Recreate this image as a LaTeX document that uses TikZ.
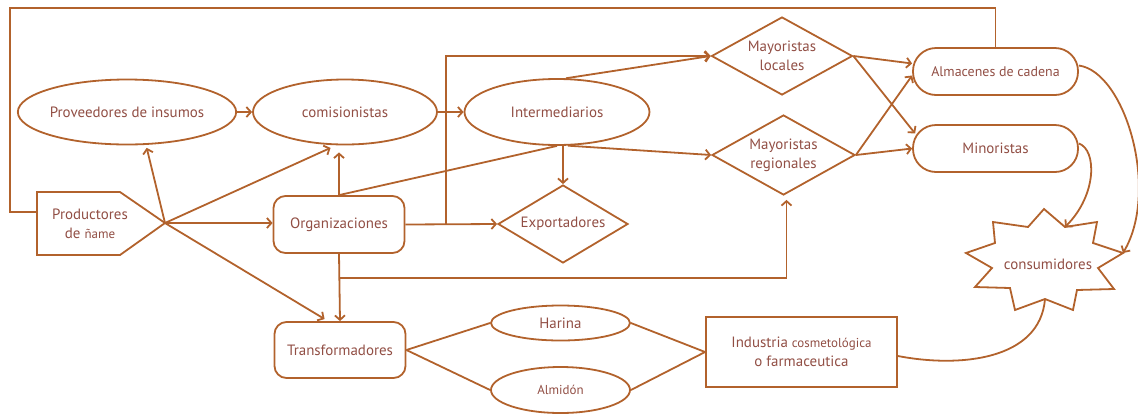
\documentclass[tikz,border=0pt]{standalone}
\usepackage{fontspec}
\setmainfont{PT Sans}
\usetikzlibrary{arrows.meta,shapes.geometric,calc}
\definecolor{lc}{RGB}{178,98,44}
\definecolor{tc}{RGB}{145,78,68}
\newcommand{\nfont}{\fontsize{15}{19}\selectfont}
\newcommand{\sfont}{\fontsize{13}{19}\selectfont}
\begin{document}
\begin{tikzpicture}[x=1bp,y=-1bp,
  ln/.style={draw=lc,line width=1.8bp},
  arr/.style={ln,-{Straight Barb[length=4.5bp,width=10bp]}},
  box/.style={ln,text=tc,font=\nfont,inner sep=0pt,align=center},
  ell/.style={box,ellipse},
  rbox/.style={box,rectangle,rounded corners=12bp},
  pill/.style={box,rectangle,rounded corners=23bp},
  dia/.style={box,diamond,aspect=1.8},
  lbl/.style={text=tc,font=\nfont,inner sep=0pt,align=center}]
\useasboundingbox (0,0) rectangle (1138,416);

% ---- nodes ----
\node[ell,minimum width=185bp,minimum height=65bp] (prov) at (127,112) {Proveedores de insumos};
\node[ell,minimum width=184bp,minimum height=65bp] (com) at (345,112) {comisionistas};
\node[ell,minimum width=185bp,minimum height=66bp] (inter) at (557,112) {Intermediarios};
\node[rbox,minimum width=131bp,minimum height=57bp] (org) at (339,224.5) {Organizaciones};
\node[rbox,minimum width=131bp,minimum height=56bp] (trans) at (340,350) {Transformadores};
\node[dia,minimum width=130bp,minimum height=78bp] (expo) at (563,224) {Exportadores};
\node[dia,minimum width=141bp,minimum height=78bp] (mloc) at (782,56) {Mayoristas\\locales};
\node[dia,minimum width=143bp,minimum height=80bp] (mreg) at (783.5,155) {Mayoristas\\regionales};
\node[pill,minimum width=165bp,minimum height=47bp,font=\fontsize{14}{16}\selectfont] (almc) at (995.5,71.5) {Almacenes de cadena};
\node[pill,minimum width=165bp,minimum height=47bp] (mino) at (995.5,148.5) {Minoristas};
\node[ell,minimum width=139bp,minimum height=35bp] (harina) at (560.5,323) {Harina};
\node[ell,minimum width=139bp,minimum height=46bp,font=\sfont] (almidon) at (560.5,390) {Almidón};
\node[box,rectangle,minimum width=191bp,minimum height=70bp] (ind) at (801.5,352) {Industria {\sfont cosmetológica}\\o farmaceutica};

% producers: pentagon pointing right
\coordinate (pTL) at (37,192);
\coordinate (pTR) at (120,192);
\coordinate (ptip) at (165,223);
\coordinate (pBR) at (120,255);
\coordinate (pBL) at (37,255);
\coordinate (prodL) at (37,212);
\draw[ln] (pTL) -- (pTR) -- (ptip) -- (pBR) -- (pBL) -- cycle;
\node[lbl] (prod) at (90,224) {Productores\\de {\sfont ñame}};

% consumers: irregular star
\coordinate (cTop) at (1044,209);
\coordinate (cIn1) at (1065,227);
\coordinate (cR) at (1123,253);
\coordinate (cBot) at (1045,299);
\draw[ln,line join=miter] (cTop) -- (cIn1) -- (1097,222) -- (1093,243) -- (cR) -- (1098,268)
  -- (1114,289) -- (1077,290) -- (1073,310) -- (cBot) -- (1015,310) -- (1010,288)
  -- (975,287) -- (992,268) -- (966,253) -- (995,243) -- (993,222) -- (1028,227) -- cycle;
\node[lbl] (cons) at (1048,264) {consumidores};

% ---- connectors ----
\coordinate (topL) at (10,8);
\draw[ln] (almc.north) |- (topL) |- (prodL);

\draw[arr,shorten >=3bp] (ptip) -- (prov.-60);
\draw[arr,shorten >=6bp] (ptip) -- ($(com.south)+(-9,0)$);
\draw[arr] (ptip) -- (ptip -| org.west);
\draw[arr,shorten >=4bp] (ptip) -- ($(trans.north)+(-12,0)$);

\draw[arr] (prov.east) -- (com.west);
\draw[arr] (com.east) -- (inter.west);
\draw[arr,shorten >=7bp] (org.north) -- (org.north |- com.south);
\draw[ln] (org.north) -- (inter.south);
\draw[arr] (expo.north |- inter.south) -- (expo.north);
\draw[arr] (inter.-72) -- (mreg.west);
\draw[arr] (inter.75) -- (mloc.west);

\draw[arr] (org.east) -- (expo.west);
\coordinate (j1) at (446,224.5);
\draw[arr] (j1) |- (mloc.west);

\draw[arr] (org.south) -- (trans.north);
\coordinate (j2) at (339,278);
\draw[arr,shorten >=4bp] (j2) -| ($(mreg.south)+(3,0)$);

\draw[arr] (mloc.east) -- ($(almc.west)+(0,-8)$);
\draw[arr] (mloc.east) -- ($(mino.west)+(3,-15)$);
\draw[arr] (mreg.east) -- ($(almc.west)+(0,4)$);
\draw[arr] (mreg.east) -- (mino.west);

\draw[arr] ($(almc.east)+(0,-6)$) .. controls (1125,72) and (1160,190) .. (cR);
\draw[arr] ($(mino.east)+(0,-5)$) .. controls (1097,150) and (1097,195) .. (cIn1);
\draw[ln] ($(ind.east)+(0,4)$) .. controls (960,368) and (1040,360) .. (cBot);

\draw[ln] (trans.east) -- (harina.west);
\draw[ln] (trans.east) -- (almidon.west);
\draw[ln] (harina.east) -- (ind.west);
\draw[ln] (almidon.east) -- (ind.west);
\end{tikzpicture}
\end{document}
